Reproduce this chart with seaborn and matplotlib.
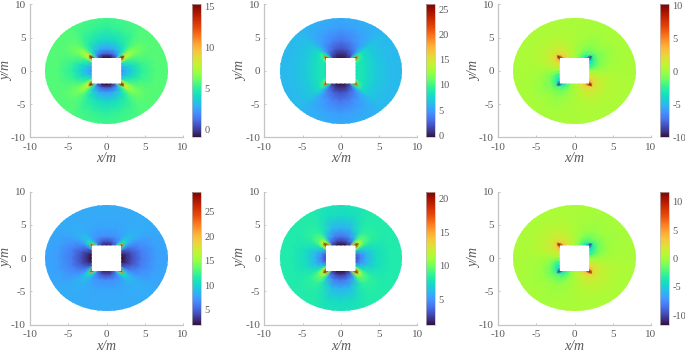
import numpy as np
import matplotlib
matplotlib.use('Agg')
import matplotlib.pyplot as plt
from matplotlib.patches import Circle
import seaborn as sns

# field values, one row per angle, one column per step
# from the hole edge (0) out past the r=8 boundary (1), the edge is clipped later
angles_q1 = [0, 15, 30, 38, 45, 52, 60, 75, 90]
angles_q2 = [105, 120, 128, 135, 142, 150, 165]
radial_steps = [0, 0.03, 0.08, 0.18, 0.35, 0.6, 1]

a_q1 = [[2, 2.5, 3, 3.7, 5, 5.7, 5.7],
        [2.5, 3, 3.5, 4.2, 5.3, 5.8, 5.7],
        [4, 4.5, 5, 5.6, 6, 5.8, 5.7],
        [8, 8, 7.5, 7, 6.3, 5.8, 5.7],
        [15, 15, 8.5, 6.8, 6, 5.7, 5.7],
        [6, 5.5, 5, 5.2, 5.5, 5.7, 5.7],
        [1, 1.5, 2.5, 3.8, 4.8, 5.4, 5.7],
        [-0.8, -0.3, 1, 2.8, 4.2, 5.2, 5.7],
        [-1, -0.5, 0.8, 2.5, 4, 5, 5.7]]

b_q1 = [[8, 8.5, 8.5, 8, 7, 6.3, 6],
        [8, 8.5, 8.5, 8, 7, 6.3, 6],
        [8.5, 8.7, 8.5, 8, 7, 6.3, 6],
        [11, 11, 9.5, 8, 7, 6.3, 6],
        [25, 20, 9.5, 8, 6.8, 6.2, 6],
        [10, 9, 7, 6, 5.8, 5.8, 6],
        [1.5, 2, 3, 4, 5, 5.5, 6],
        [0, 0.4, 1, 2.5, 4, 5.2, 6],
        [0, 0.3, 0.8, 2, 3.5, 5, 6]]

c_q1 = [[-0.2, -0.2, -0.1, 0, 0.2, 0.3, 0.3],
        [-2, -2, -1.5, -0.7, 0, 0.2, 0.3],
        [-3, -3, -2.3, -1, -0.3, 0.2, 0.3],
        [-4, -4, -2.3, -1, -0.3, 0.2, 0.3],
        [-9, -9, -1.8, -0.6, 0, 0.2, 0.3],
        [-4, -3.5, -1.6, -0.9, -0.2, 0.2, 0.3],
        [-2.5, -2.5, -1.9, -1, -0.3, 0.1, 0.3],
        [-0.7, -0.7, -0.6, -0.3, 0, 0.2, 0.3],
        [0.2, 0.2, 0.3, 0.3, 0.3, 0.3, 0.3]]
c_q2 = [[1, 1, 1, 0.9, 0.6, 0.4, 0.3],
        [2.3, 2.3, 2.2, 1.5, 0.8, 0.4, 0.3],
        [4, 3.5, 2.2, 1.5, 0.8, 0.4, 0.3],
        [10, 10, 2.2, 1.1, 0.6, 0.4, 0.3],
        [4, 3.5, 2.2, 1.5, 0.8, 0.4, 0.3],
        [2.3, 2.3, 2.1, 1.4, 0.7, 0.4, 0.3],
        [1.1, 1.1, 1.1, 0.9, 0.6, 0.4, 0.3]]

d_q1 = [[2, 2.3, 3, 4.2, 6, 7.5, 8],
        [2.2, 2.6, 3.2, 4.5, 6.2, 7.6, 8],
        [4.5, 5, 5.5, 6.3, 7.2, 7.8, 8],
        [10, 10, 8.5, 8, 8, 8, 8],
        [27, 22, 11, 9, 8.3, 8.1, 8],
        [13, 12, 10, 8.8, 8.2, 8, 8],
        [6, 6.5, 7, 7.5, 8, 8, 8],
        [3, 3.5, 5, 7, 7.8, 8, 8],
        [3, 3.3, 4.5, 7, 7.8, 8, 8]]

e_q1 = [[3, 3.5, 4.5, 6, 7.5, 8.2, 8.2],
        [3.5, 4, 5, 6.3, 7.6, 8.2, 8.2],
        [7, 7.3, 7.6, 8, 8.3, 8.2, 8.2],
        [12, 12, 11, 9.5, 8.6, 8.3, 8.2],
        [20, 20, 12, 9.5, 8.6, 8.3, 8.2],
        [12, 11, 10, 9.5, 8.6, 8.3, 8.2],
        [3, 3.5, 4.5, 6.5, 8, 8.3, 8.2],
        [1.5, 2, 3, 4.5, 6.3, 7.6, 8.2],
        [1.3, 1.8, 2.7, 4.2, 6, 7.4, 8.2]]

f_q1 = [[-0.2, -0.2, -0.1, 0, 0.2, 0.3, 0.3],
        [-2.5, -2.5, -1.9, -0.9, -0.1, 0.2, 0.3],
        [-3.6, -3.6, -2.9, -1.4, -0.3, 0.1, 0.3],
        [-5, -4.5, -2.9, -1.4, -0.3, 0.1, 0.3],
        [-11, -10, -2, -0.9, -0.1, 0.2, 0.3],
        [-5, -4, -2.2, -1.2, -0.2, 0.1, 0.3],
        [-3, -3, -2.5, -1.4, -0.4, 0, 0.3],
        [-0.9, -0.9, -0.8, -0.5, -0.1, 0.2, 0.3],
        [0.2, 0.2, 0.3, 0.3, 0.3, 0.3, 0.3]]
f_q2 = [[1.1, 1.1, 1.1, 1, 0.7, 0.4, 0.3],
        [2.5, 2.5, 2.4, 1.7, 0.9, 0.4, 0.3],
        [4.5, 4, 2.5, 1.7, 0.9, 0.4, 0.3],
        [11.5, 11, 2.6, 1.3, 0.7, 0.4, 0.3],
        [4.5, 4, 2.5, 1.7, 0.9, 0.4, 0.3],
        [2.5, 2.5, 2.3, 1.6, 0.8, 0.4, 0.3],
        [1.2, 1.2, 1.2, 1, 0.7, 0.4, 0.3]]

panel_q1 = [a_q1, b_q1, c_q1, d_q1, e_q1, f_q1]
# the shear panels have their own upper left quadrant, the others mirror
panel_q2 = [None, None, c_q2, None, None, f_q2]
panel_limits = [(-1, 15.3), (-0.4, 26), (-10, 10.2), (1.9, 29.1), (1.3, 21), (-11.7, 11.8)]
panel_ticks = [[0, 5, 10, 15], [0, 5, 10, 15, 20, 25], [-10, -5, 0, 5, 10],
               [5, 10, 15, 20, 25], [5, 10, 15, 20], [-10, -5, 0, 5, 10]]

axis_ticks = [-10, -5, 0, 5, 10]
hole_half = 2
outer_radius = 8
mesh_radius = 9.5

sns.set_theme(style='ticks')
plt.rcParams['font.family'] = ['Liberation Serif']
plt.rcParams['axes.unicode_minus'] = False
grey = '#5a5a5a'

W, H = 685, 352
fig = plt.figure(figsize=(W / 100, H / 100), dpi=100)
cmap = sns.color_palette('turbo', as_cmap=True)

left_px = [30, 264.3, 498]
top_px = [4.3, 191.7]
ax_w, ax_h = 153, 133
bar_gap, bar_w = 9, 9


def px_axes(x0, y0, w, h):
    return fig.add_axes([x0 / W, 1 - (y0 + h) / H, w / W, h / H])


for i in range(6):
    x0 = left_px[i % 3]
    y0 = top_px[i // 3]
    ax = px_axes(x0, y0, ax_w, ax_h)
    cax = px_axes(x0 + ax_w + bar_gap, y0, bar_w, ax_h)

    q1 = np.array(panel_q1[i], dtype=float)
    if panel_q2[i] is None:
        q2 = q1[-2:0:-1]
    else:
        q2 = np.array(panel_q2[i], dtype=float)
    half = np.vstack([q1, q2])
    values = np.vstack([half, half, half[:1]])
    half_angles = np.array(angles_q1 + angles_q2, dtype=float)
    theta = np.radians(np.concatenate([half_angles, half_angles + 180, [360]]))

    r_in = hole_half / np.maximum(np.abs(np.cos(theta)), np.abs(np.sin(theta)))
    steps = np.array(radial_steps)
    r = r_in[:, None] + steps[None, :] * (mesh_radius - r_in[:, None])
    X = r * np.cos(theta)[:, None]
    Y = r * np.sin(theta)[:, None]

    vmin, vmax = panel_limits[i]
    mesh = ax.pcolormesh(X, Y, values, shading='gouraud', cmap=cmap, vmin=vmin, vmax=vmax)
    mesh.set_clip_path(Circle((0, 0), outer_radius, transform=ax.transData))
    ax.set_xlim(-10, 10)
    ax.set_ylim(-10, 10)
    ax.set_xticks(axis_ticks)
    ax.set_yticks(axis_ticks)
    ax.tick_params(direction='in', length=1.5, width=0.6, color='#bdbdbd',
                   labelsize=8, labelcolor=grey)
    ax.tick_params(axis='x', pad=4)
    ax.tick_params(axis='y', pad=3)
    sns.despine(ax=ax)
    for side in ['left', 'bottom']:
        ax.spines[side].set_color('#c4c4c4')
        ax.spines[side].set_linewidth(0.9)
    ax.set_xlabel('x/m', fontsize=10, style='italic', color=grey)
    ax.set_ylabel('y/m', fontsize=10, style='italic', color=grey)
    ax.xaxis.set_label_coords(0.5, -15 / ax_h)
    ax.yaxis.set_label_coords(-17 / ax_w, 0.5)

    cb = fig.colorbar(mesh, cax=cax, ticks=panel_ticks[i])
    cb.ax.tick_params(length=0, labelsize=7.5, labelcolor=grey, pad=2.5)
    cb.outline.set_edgecolor('#bdbdbd')
    cb.outline.set_linewidth(0.5)

fig.savefig('out.png', dpi=100)
